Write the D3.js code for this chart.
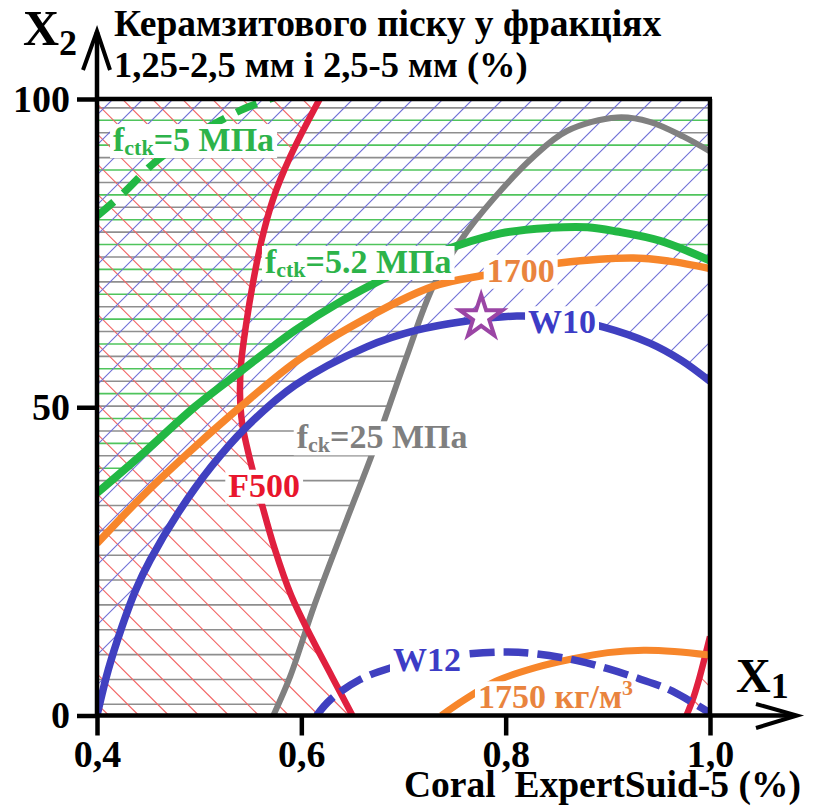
<!DOCTYPE html>
<html><head><meta charset="utf-8">
<script src="https://cdn.jsdelivr.net/npm/d3@7"></script>
<style>
body{margin:0;background:#fff}
text, tspan{font-family:"Liberation Serif","Times New Roman",serif !important;font-weight:bold}
</style>
</head><body>
<svg id="c" width="813" height="809"></svg>
<script>
// ---- data ----
const f500A  = [[0.618,100],[0.589,90.6],[0.572,83.6],[0.561,77],[0.553,70.5],[0.546,63.5],[0.541,57],[0.540,52],[0.542,47.5],[0.549,42],[0.561,34.5],[0.574,27],[0.590,19.5],[0.610,12.6],[0.630,6.3],[0.650,0]];
const f500B  = [[0.977,0],[0.984,3],[0.990,6.3],[1.0,12.8]];
const fctk52 = [[0.4,36.1],[0.447,42.8],[0.496,50.1],[0.542,56.0],[0.594,62.5],[0.64,67.3],[0.687,71.4],[0.736,75.2],[0.795,78.2],[0.843,79.1],[0.88,79.2],[0.909,78.5],[0.951,77.0],[1.0,73.8]];
const fctk5  = [[0.4,81],[0.425,84.6],[0.455,89.5],[0.48,92.6],[0.511,95.6],[0.545,98.5],[0.58,100.6]];
const d1700  = [[0.4,27.9],[0.447,36.0],[0.496,43.6],[0.542,50.3],[0.594,57.3],[0.65,63.2],[0.729,69.6],[0.782,71.5],[0.853,73.4],[0.925,74.2],[0.96,73.7],[1.0,72.5]];
const d1750  = [[0.737,0],[0.76,2.6],[0.791,5.6],[0.83,7.8],[0.866,9.2],[0.90,10.2],[0.935,10.6],[0.965,10.4],[1.0,9.8]];
const w10    = [[0.4,0],[0.411,7.4],[0.424,14.2],[0.438,20.4],[0.452,25.2],[0.480,33.0],[0.512,40.4],[0.545,46.6],[0.594,53.6],[0.664,59.8],[0.713,62.5],[0.762,64.0],[0.811,64.8],[0.855,64.4],[0.896,63.0],[0.941,60.4],[0.972,57.6],[1.0,54.2]];
const w12    = [[0.615,0],[0.628,2.5],[0.657,5.8],[0.687,7.7],[0.72,9.0],[0.765,10.0],[0.80,10.3],[0.83,10.0],[0.87,8.9],[0.90,7.6],[0.93,6.0],[0.96,4.2],[0.98,2.4],[1.0,0.4]];
const fck25  = [[0.5726,0],[0.589,6.3],[0.613,18.0],[0.645,32.0],[0.670,42.7],[0.703,58.2],[0.729,69.6],[0.757,77.3],[0.788,83.8],[0.827,90.6],[0.860,94.8],[0.909,97.0],[0.941,96.3],[0.974,93.9],[1.0,91.5]];
const optimum = [0.776, 64.6];
const xTicks = [0.4, 0.6, 0.8, 1.0];
const xTickLabels = ["0,4", "0,6", "0,8", "1,0"];
const yTicks = [0, 50, 100];
const yTickLabels = ["0", "50", "100"];

// ---- scales ----
const x = d3.scaleLinear().domain([0.4, 1.0]).range([97, 710]);
const y = d3.scaleLinear().domain([0, 100]).range([715.5, 99]);
const FONT = '"Liberation Serif","Times New Roman",serif';

const svg = d3.select("#c");
const defs = svg.append("defs");
const line = d3.line().x(d => x(d[0])).y(d => y(d[1])).curve(d3.curveCatmullRom.alpha(0.5));
function region(curve, extra) {
  return line(curve) + extra.map(p => `L${x(p[0])},${y(p[1])}`).join("") + "Z";
}
function clip(id, d) { defs.append("clipPath").attr("id", id).append("path").attr("d", d); }

defs.append("clipPath").attr("id", "plot").append("rect")
  .attr("x", x(0.4)).attr("y", y(100)).attr("width", x(1) - x(0.4)).attr("height", y(0) - y(100));
clip("redClip", region(f500A, [[0.4, 0], [0.4, 100]]) + region(f500B, [[1.05, 12.8], [1.05, 0]]));
clip("blueClip", region(w10, [[1.0, 100], [0.4, 100]]));
clip("grayClip", region(fck25, [[1.0, 100], [0.4, 100], [0.4, 0]]));
clip("greenClip", region(fctk52, [[1.0, 100], [0.4, 100]]));

// ---- hatching ----
const plot = svg.append("g").attr("clip-path", "url(#plot)");
const X0 = x(0.4), X1 = x(1.0), Y0 = y(0), Y1 = y(100);
const gGray = plot.append("g").attr("clip-path", "url(#grayClip)")
  .attr("stroke", "#8e8e8e").attr("stroke-width", 1.6);
for (let k = 0; k < 26; k++) {
  const yy = 704.3 - 24.85 * k;
  if (yy < Y1) break;
  gGray.append("line").attr("x1", X0).attr("x2", X1).attr("y1", yy).attr("y2", yy);
}
const gGreen = plot.append("g").attr("clip-path", "url(#greenClip)")
  .attr("stroke", "#4fc45c").attr("stroke-width", 1.6);
for (let k = 1; k < 26; k++) {
  const yy = 716.7 - 24.85 * k;
  if (yy < Y1) break;
  gGreen.append("line").attr("x1", X0).attr("x2", X1).attr("y1", yy).attr("y2", yy);
}
const gRed = plot.append("g").attr("clip-path", "url(#redClip)")
  .attr("stroke", "#f26464").attr("stroke-width", 1.1);
for (let c = 23.3 - 30 * 22; c < 640; c += 30) {
  gRed.append("line").attr("x1", Y1 + c).attr("y1", Y1).attr("x2", Y0 + c).attr("y2", Y0);
}
const gBlue = plot.append("g").attr("clip-path", "url(#blueClip)")
  .attr("stroke", "#6f6fd6").attr("stroke-width", 1.1);
for (let c = 692 - 30 * 17; c < 1460; c += 30) {
  gBlue.append("line").attr("x1", c - Y0).attr("y1", Y0).attr("x2", c - Y1).attr("y2", Y1);
}

// ---- curves ----
const curves = plot.append("g").attr("fill", "none");
function curve(data, color, w, dash) {
  const p = curves.append("path").attr("d", line(data)).attr("stroke", color).attr("stroke-width", w);
  if (dash) p.attr("stroke-dasharray", dash);
}
curve(fck25, "#808080", 6);
curve(f500A, "#e0203f", 6.5);
curve(f500B, "#e0203f", 6.5);
curve(fctk5, "#22b844", 7.5, "22,13");
curve(fctk52, "#22b844", 8);
curve(d1700, "#f7862b", 7.5);
curve(d1750, "#f7862b", 7);
curve(w10, "#4040c0", 7.5);
curve(w12, "#4040c0", 7.5, "25,9");

// ---- labels ----
const labels = svg.append("g");
function label(parts, dx, dy, color) {
  const g = labels.append("g");
  const r = g.append("rect").attr("fill", "#fff");
  const t = g.append("text").attr("x", x(dx)).attr("y", y(dy)).attr("fill", color)
    .style("font-family", FONT).style("font-weight", "bold");
  parts.forEach(p => {
    const s = t.append("tspan").attr("font-size", p[1]).text(p[0]);
    if (p[2]) s.attr("dy", p[2]);
  });
  const bb = t.node().getBBox();
  r.attr("x", bb.x - 3).attr("width", bb.width + 6)
   .attr("y", y(dy) - 27).attr("height", 34);
}
const green = "#2db34a", orange = "#e9843e", blue = "#3c3cc6", gray = "#7f7f7f", red = "#e8162d";
label([["f", 34], ["ctk", 22, 4], ["=5 МПа", 34, -4]], 0.4157, 91.56, green);
label([["f", 34], ["ctk", 22, 4], ["=5.2 МПа", 34, -4]], 0.5644, 71.78, green);
label([["1700", 34]], 0.7814, 70.36, orange);
label([["W10", 34]], 0.8219, 62.0, blue);
label([["f", 34], ["ck", 22, 4], ["=25 МПа", 34, -4]], 0.5955, 43.34, gray);
label([["F500", 34]], 0.5285, 35.49, red);
label([["W12", 34]], 0.6897, 7.22, blue);
label([["1750 кг/м", 34], ["3", 22, -13]], 0.7729, 1.17, orange);

// ---- optimum star ----
svg.append("path")
  .attr("d", d3.symbol(d3.symbolStar, 560)())
  .attr("transform", `translate(${x(optimum[0])},${y(optimum[1])})`)
  .attr("fill", "#fff").attr("stroke", "#9b45a5").attr("stroke-width", 4).attr("stroke-linejoin", "miter");

// ---- frame & axes ----
const axG = svg.append("g").attr("stroke", "#000").attr("fill", "none").attr("stroke-width", 4.5);
axG.append("line").attr("x1", X0 - 2).attr("x2", X1 + 2).attr("y1", Y1).attr("y2", Y1);
axG.append("line").attr("x1", X1).attr("x2", X1).attr("y1", Y1).attr("y2", Y0);
axG.append("line").attr("x1", X0).attr("x2", X0).attr("y1", Y0 + 2).attr("y2", 32);
axG.append("line").attr("x1", X0 - 2).attr("x2", 795).attr("y1", Y0).attr("y2", Y0);
axG.append("polyline").attr("points", `${X0 - 14},70 ${X0},31 ${X0 + 13},70`).attr("stroke-width", 4);
axG.append("polyline").attr("points", `756,704 797,${Y0} 756,728`).attr("stroke-width", 4);

const xAxis = d3.axisBottom(x).tickValues(xTicks).tickFormat((d, i) => xTickLabels[i]).tickSize(20).tickPadding(5);
const yAxis = d3.axisLeft(y).tickValues(yTicks).tickFormat((d, i) => yTickLabels[i]).tickSize(20).tickPadding(7);
const gx = svg.append("g").attr("transform", `translate(0,${Y0})`).call(xAxis);
const gy = svg.append("g").attr("transform", `translate(${X0},0)`).call(yAxis);
[gx, gy].forEach(g => {
  g.attr("font-family", null);
  g.select(".domain").remove();
  g.selectAll(".tick line").attr("stroke", "#000").attr("stroke-width", 4.5);
  g.selectAll(".tick text").attr("fill", "#000").attr("font-size", 38)
    .style("font-family", FONT).style("font-weight", "bold");
});

// ---- titles ----
const T = svg.append("g").attr("fill", "#000");
function ttl(xp, yp, fs, s) {
  return T.append("text").attr("x", xp).attr("y", yp).attr("font-size", fs)
    .style("font-family", FONT).style("font-weight", "bold").text(s);
}
ttl(114, 36, 37.5, "Керамзитового піску у фракціях");
ttl(114, 77, 36.5, "1,25-2,5 мм і 2,5-5 мм (%)");
ttl(404, 797, 37.5, "Coral\u00a0 ExpertSuid-5 (%)");
const x2 = ttl(23, 45, 50, "");
x2.append("tspan").text("X");
x2.append("tspan").attr("font-size", 36).attr("dy", 10).text("2");
const x1 = ttl(736, 692, 48, "");
x1.append("tspan").text("X");
x1.append("tspan").attr("font-size", 36).attr("dy", 6).text("1");
</script>
</body></html>
